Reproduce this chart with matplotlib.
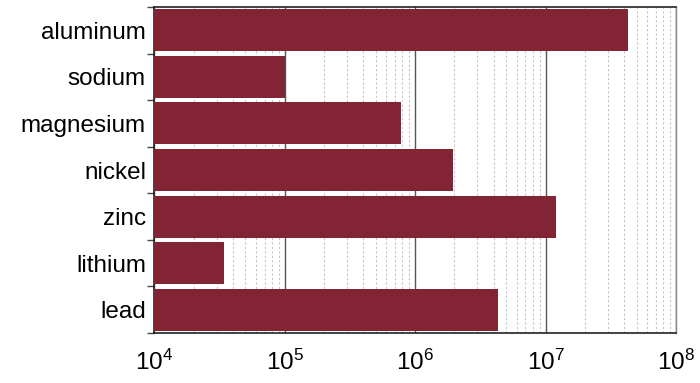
import matplotlib
matplotlib.use("Agg")
import matplotlib.pyplot as plt
from matplotlib.ticker import LogLocator, FixedLocator
import numpy as np

metals = ["aluminum", "sodium", "magnesium", "nickel", "zinc", "lithium", "lead"]
amounts = [4.25e7, 1.0e5, 7.8e5, 1.96e6, 1.21e7, 3.42e4, 4.34e6]

plt.rcParams["font.family"] = ["Liberation Sans", "DejaVu Sans"]
plt.rcParams["mathtext.fontset"] = "custom"
plt.rcParams["mathtext.rm"] = "Liberation Sans"
plt.rcParams["mathtext.it"] = "Liberation Sans"

fig = plt.figure(figsize=(7.0, 3.83), dpi=100)
ax = fig.add_axes([0.2204, 0.1305, 0.7453, 0.8512])

pos = np.arange(len(metals))
ax.set_xscale("log")
ax.barh(pos, amounts, height=0.9, color="#822433", zorder=3)

ax.set_xlim(1e4, 1e8)
ax.set_ylim(len(metals) - 0.5, -0.5)

ax.set_yticks(pos)
ax.set_yticklabels(metals, fontsize=17.5)
ax.yaxis.set_minor_locator(FixedLocator(np.arange(-0.5, len(metals), 1.0)))
ax.tick_params(axis="y", which="major", length=0, pad=6)
ax.tick_params(axis="y", which="minor", length=5, width=1, color="#444444", direction="out")

ax.xaxis.set_major_locator(LogLocator(base=10, numticks=10))
ax.xaxis.set_minor_locator(LogLocator(base=10, subs=np.arange(2, 10), numticks=100))
ax.tick_params(axis="x", which="both", length=0, labelsize=17.5, pad=12)

ax.grid(True, axis="x", which="major", color="#555555", linewidth=1.0, zorder=1)
ax.grid(True, axis="x", which="minor", color="#c4c4c4", linewidth=0.8, linestyle=(0, (2, 2)), zorder=1)

for side in ["top", "left", "bottom"]:
    ax.spines[side].set_color("#222222")
    ax.spines[side].set_linewidth(1.2)
ax.spines["right"].set_color("#888888")
ax.spines["right"].set_linewidth(1.0)

fig.savefig("out.png", dpi=100)
